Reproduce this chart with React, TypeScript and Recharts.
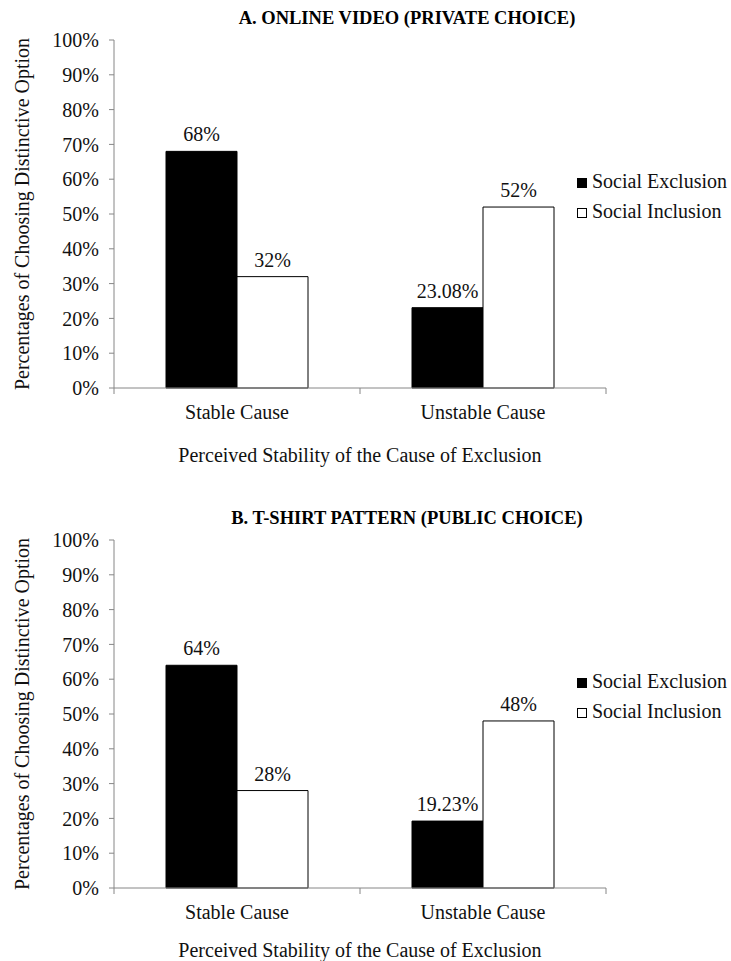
import React from 'react';
import { BarChart, Bar, XAxis, YAxis, LabelList } from 'recharts';

const categories = ['Stable Cause', 'Unstable Cause'];
const seriesNames = ['Social Exclusion', 'Social Inclusion'];
const seriesFills = ['#000000', '#ffffff'];
const videoExclusion = [68, 23.08];
const videoInclusion = [32, 52];
const shirtExclusion = [64, 19.23];
const shirtInclusion = [28, 48];
const yTicks = [0, 10, 20, 30, 40, 50, 60, 70, 80, 90, 100];
const titles = ['A. ONLINE VIDEO (PRIVATE CHOICE)', 'B. T-SHIRT PATTERN (PUBLIC CHOICE)'];
const xAxisTitle = 'Perceived Stability of the Cause of Exclusion';
const yAxisTitle = 'Percentages of Choosing Distinctive Option';

const FONT = '"Liberation Serif", "Times New Roman", serif';
const AXIS = '#868686';
const TEXT = '#111111';
const X_TICK_MARGIN = 17;

const CategoryTick = (props: any) => {
  const { x, y, payload, index, visibleTicksCount } = props;
  const half = payload && typeof payload.offset === 'number' ? payload.offset : 0;
  const axisY = y - X_TICK_MARGIN;
  const count = visibleTicksCount ?? categories.length;
  return (
    <g>
      <line x1={x - half} x2={x - half} y1={axisY} y2={axisY + 6} stroke={AXIS} />
      {index === count - 1 && <line x1={x + half} x2={x + half} y1={axisY} y2={axisY + 6} stroke={AXIS} />}
      <text x={x} y={y} dy="0.71em" textAnchor="middle" fontSize={20} fill={TEXT} fontFamily={FONT}>
        {payload.value}
      </text>
    </g>
  );
};

const LegendBox = () => (
  <div style={{ position: 'absolute', left: 577, top: 166, width: 154, fontFamily: FONT, fontSize: 20, color: TEXT }}>
    {seriesNames.map((name, i) => (
      <div key={name} style={{ height: 30, lineHeight: '30px', whiteSpace: 'nowrap' }}>
        <span
          style={{
            display: 'inline-block',
            width: 10,
            height: 10,
            boxSizing: 'border-box',
            border: '1px solid #000',
            background: seriesFills[i],
            marginRight: 5,
            verticalAlign: 'baseline',
          }}
        />
        {name}
      </div>
    ))}
  </div>
);

const Panel = ({ title, exclusion, inclusion, top, labelOffset }: { title: string; exclusion: number[]; inclusion: number[]; top: number; labelOffset: number }) => {
  const data = categories.map((c, i) => ({ category: c, exclusion: exclusion[i], inclusion: inclusion[i] }));
  return (
    <div style={{ position: 'absolute', left: 0, top, width: 731, height: 472 }}>
      <div
        style={{
          position: 'absolute',
          left: 207,
          width: 400,
          top: 8,
          height: 20,
          lineHeight: '20px',
          textAlign: 'center',
          fontFamily: FONT,
          fontWeight: 'bold',
          fontSize: 18.5,
          color: '#000',
          whiteSpace: 'nowrap',
          zIndex: 2,
        }}
      >
        {title}
      </div>
      <BarChart
        width={731}
        height={472}
        data={data}
        margin={{ top: 40, right: 125, left: 0, bottom: 8 }}
        barGap={0}
        barSize={71}
      >
        <XAxis
          dataKey="category"
          height={76}
          interval={0}
          tickLine={false}
          tickSize={0}
          tickMargin={X_TICK_MARGIN}
          axisLine={{ stroke: AXIS }}
          tick={<CategoryTick />}
          label={{ value: xAxisTitle, position: 'insideBottom', offset: labelOffset, fontSize: 20, fill: TEXT, fontFamily: FONT }}
        />
        <YAxis
          type="number"
          domain={[0, 100]}
          ticks={yTicks}
          interval={0}
          tickFormatter={(v: number) => `${v}%`}
          width={114}
          tickSize={5}
          tickMargin={10}
          axisLine={{ stroke: AXIS }}
          tickLine={{ stroke: AXIS }}
          tick={{ fontSize: 20, fill: TEXT, fontFamily: FONT }}
          label={{
            value: yAxisTitle,
            angle: -90,
            position: 'insideLeft',
            offset: 22,
            style: { textAnchor: 'middle' },
            fontSize: 20,
            fill: TEXT,
            fontFamily: FONT,
          }}
        />
        <Bar dataKey="exclusion" name={seriesNames[0]} fill={seriesFills[0]} stroke="#000000" strokeWidth={1} isAnimationActive={false}>
          <LabelList dataKey="exclusion" position="top" offset={10} formatter={(v: any) => `${v}%`} style={{ fontSize: 20, fill: TEXT, fontFamily: FONT }} />
        </Bar>
        <Bar dataKey="inclusion" name={seriesNames[1]} fill={seriesFills[1]} stroke="#000000" strokeWidth={1} isAnimationActive={false}>
          <LabelList dataKey="inclusion" position="top" offset={10} formatter={(v: any) => `${v}%`} style={{ fontSize: 20, fill: TEXT, fontFamily: FONT }} />
        </Bar>
      </BarChart>
      <LegendBox />
    </div>
  );
};

export default function App() {
  return (
    <div style={{ position: 'absolute', left: 0, top: 0, width: 731, height: 961, overflow: 'hidden', background: '#fff' }}>
      <Panel title={titles[0]} exclusion={videoExclusion} inclusion={videoInclusion} top={0} labelOffset={2} />
      <Panel title={titles[1]} exclusion={shirtExclusion} inclusion={shirtInclusion} top={500} labelOffset={7} />
    </div>
  );
}
